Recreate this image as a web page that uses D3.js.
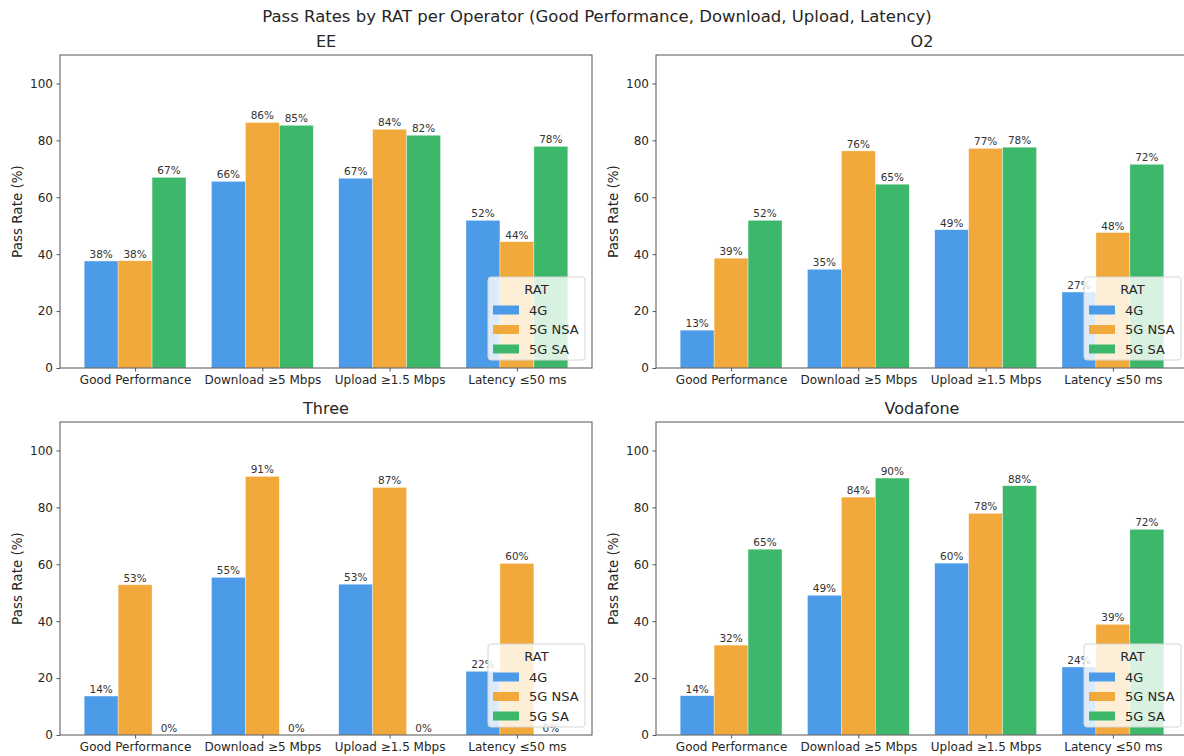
<!DOCTYPE html>
<html>
<head>
<meta charset="utf-8">
<script src="https://cdn.jsdelivr.net/npm/d3@7"></script>
<style>
  html, body { margin: 0; padding: 0; background: #fff; }
  svg { display: block; font-family: "DejaVu Sans", sans-serif; }
</style>
</head>
<body>
<svg id="chart" width="1184" height="756"></svg>
<script>
// ---------------- DATA ----------------
const chartTitle = "Pass Rates by RAT per Operator (Good Performance, Download, Upload, Latency)";
const categories = ["Good Performance", "Download \u22655 Mbps", "Upload \u22651.5 Mbps", "Latency \u226450 ms"];
const rats = ["4G", "5G NSA", "5G SA"];
const operators = ["EE", "O2", "Three", "Vodafone"];
const yTicks = [0, 20, 40, 60, 80, 100];

// pass rates (%) per operator, one array per RAT (category order)
const ee4G       = [37.6, 65.6, 66.7, 51.9];
const ee5GNSA    = [37.7, 86.3, 83.9, 44.4];
const ee5GSA     = [67.0, 85.3, 81.8, 77.9];
const o24G       = [13.3, 34.7, 48.6, 26.7];
const o25GNSA    = [38.6, 76.3, 77.2, 47.6];
const o25GSA     = [51.9, 64.6, 77.6, 71.6];
const three4G    = [13.7, 55.4, 53.0, 22.4];
const three5GNSA = [52.8, 90.9, 87.0, 60.3];
const three5GSA  = [0, 0, 0, 0];
const voda4G     = [13.8, 49.1, 60.4, 23.9];
const voda5GNSA  = [31.6, 83.6, 77.9, 38.9];
const voda5GSA   = [65.3, 90.3, 87.6, 72.3];

const seriesByOperator = {
  "EE": [ee4G, ee5GNSA, ee5GSA],
  "O2": [o24G, o25GNSA, o25GSA],
  "Three": [three4G, three5GNSA, three5GSA],
  "Vodafone": [voda4G, voda5GNSA, voda5GSA]
};

// ---------------- STYLE / LAYOUT ----------------
const colors = ["#4C9BE8", "#F2A93B", "#3DB86B"];
const panels = [
  { op: "EE",       left: 60,  top: 55,  width: 532, height: 313 },
  { op: "O2",       left: 656, top: 55,  width: 532, height: 313 },
  { op: "Three",    left: 60,  top: 422, width: 532, height: 313 },
  { op: "Vodafone", left: 656, top: 422, width: 532, height: 313 }
];
const textColor = "#262626";
const spineColor = "#555";

const svg = d3.select("#chart");
svg.append("rect").attr("width", 1184).attr("height", 756).attr("fill", "#fff");

svg.append("text")
  .attr("x", 597).attr("y", 22)
  .attr("text-anchor", "middle")
  .attr("font-size", 16.5).attr("fill", textColor)
  .text(chartTitle);

const groupWidth = 0.8;
const barW = groupWidth / rats.length;

panels.forEach(p => {
  const g = svg.append("g").attr("transform", `translate(${p.left},${p.top})`);
  const x = d3.scaleLinear().domain([-0.59, categories.length - 1 + 0.59]).range([0, p.width]);
  const y = d3.scaleLinear().domain([0, 110]).range([p.height, 0]);
  const series = seriesByOperator[p.op];

  const clipId = "clip-" + p.op;
  g.append("clipPath").attr("id", clipId)
    .append("rect").attr("width", p.width).attr("height", p.height);

  const plot = g.append("g").attr("clip-path", `url(#${clipId})`);

  rats.forEach((rat, ri) => {
    const vals = series[ri];
    plot.selectAll(null)
      .data(vals)
      .enter().append("rect")
      .attr("x", (d, i) => x(i - groupWidth / 2 + ri * barW))
      .attr("width", x(barW) - x(0))
      .attr("y", d => y(d))
      .attr("height", d => y(0) - y(d))
      .attr("fill", colors[ri])
      .attr("stroke", "#fff")
      .attr("stroke-opacity", 0.6)
      .attr("stroke-width", 0.6);

    plot.selectAll(null)
      .data(vals)
      .enter().append("text")
      .attr("x", (d, i) => x(i - groupWidth / 2 + (ri + 0.5) * barW))
      .attr("y", d => y(d) - 3)
      .attr("text-anchor", "middle")
      .attr("font-size", 10.5)
      .attr("fill", "#333")
      .text(d => d3.format(".0f")(d) + "%");
  });

  const yAxis = d3.axisLeft(y).tickValues(yTicks).tickSize(3.5).tickPadding(3.5);
  const ya = g.append("g").call(yAxis);
  const xAxis = d3.axisBottom(x).tickValues(d3.range(categories.length))
    .tickFormat(i => categories[i]).tickSize(3.5).tickPadding(3.5);
  const xa = g.append("g").attr("transform", `translate(0,${p.height})`).call(xAxis);
  [ya, xa].forEach(a => {
    a.select(".domain").remove();
    a.selectAll("line").attr("stroke", spineColor);
    a.selectAll("text").attr("font-size", 12).attr("fill", textColor)
      .attr("font-family", "DejaVu Sans, sans-serif");
  });

  g.append("rect").attr("width", p.width).attr("height", p.height)
    .attr("fill", "none").attr("stroke", spineColor).attr("stroke-width", 1);

  g.append("text")
    .attr("x", p.width / 2).attr("y", -8)
    .attr("text-anchor", "middle")
    .attr("font-size", 16).attr("fill", textColor)
    .text(p.op);

  g.append("text")
    .attr("transform", `translate(${-38},${p.height / 2}) rotate(-90)`)
    .attr("text-anchor", "middle")
    .attr("font-size", 13.5).attr("fill", textColor)
    .text("Pass Rate (%)");

  const lw = 97, lh = 83;
  const lg = g.append("g").attr("transform", `translate(${p.width - 7 - lw},${p.height - 8 - lh})`);
  lg.append("rect").attr("width", lw).attr("height", lh).attr("rx", 3)
    .attr("fill", "#fff").attr("fill-opacity", 0.8)
    .attr("stroke", "#d6d6d6").attr("stroke-width", 1);
  lg.append("text").attr("x", lw / 2).attr("y", 17)
    .attr("text-anchor", "middle").attr("font-size", 13).attr("fill", textColor)
    .text("RAT");
  rats.forEach((rat, ri) => {
    const cy = 33 + ri * 19.5;
    lg.append("rect").attr("x", 5).attr("y", cy - 4.5).attr("width", 26).attr("height", 9)
      .attr("fill", colors[ri]);
    lg.append("text").attr("x", 41).attr("y", cy + 4.5)
      .attr("font-size", 13).attr("fill", textColor).text(rat);
  });
});
</script>
</body>
</html>
